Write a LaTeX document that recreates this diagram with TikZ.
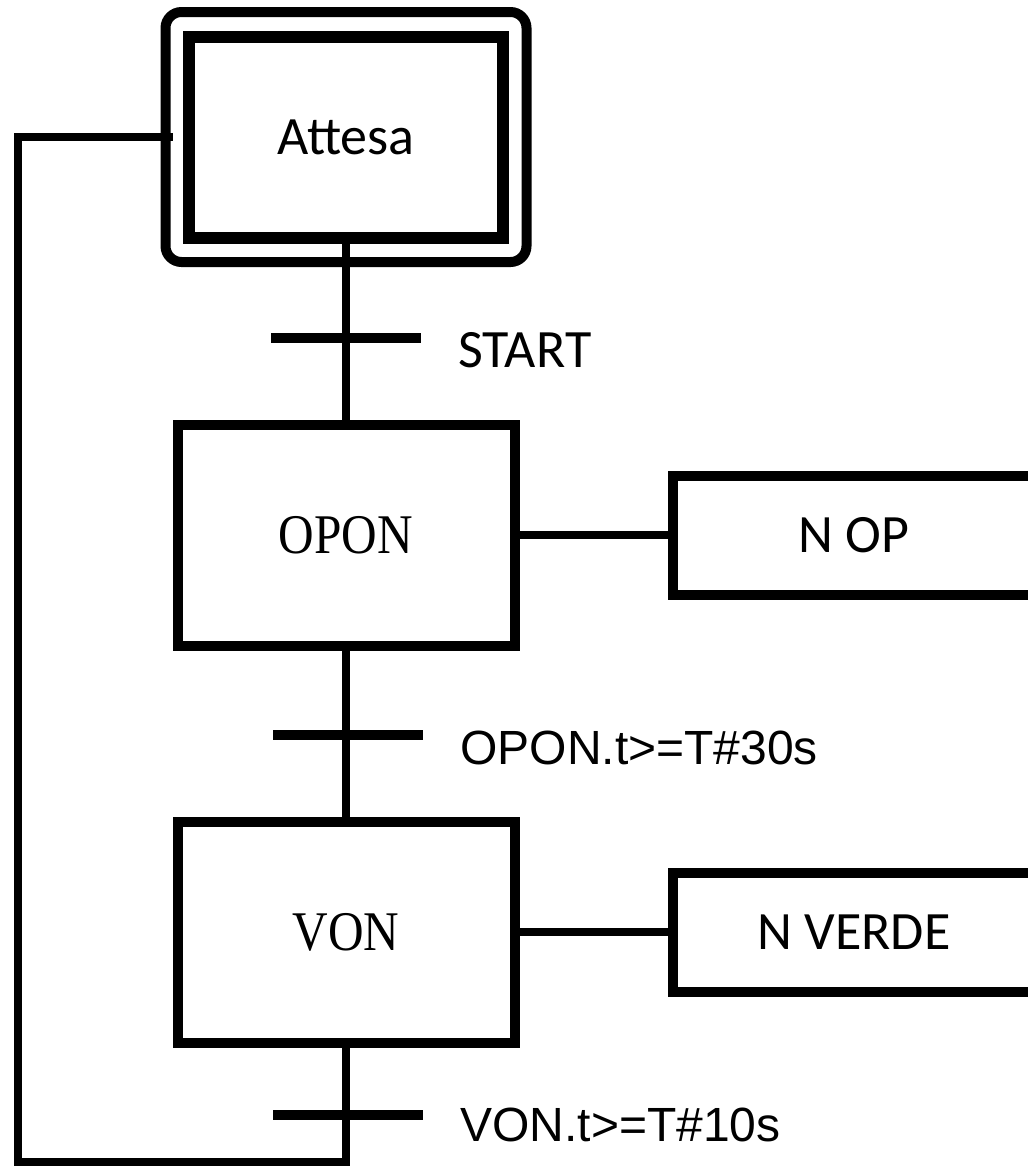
\documentclass[tikz,border=0pt]{standalone}
\usepackage{fontspec}
\newfontfamily\calfont{Carlito}
\newfontfamily\arialfont{Liberation Sans}
\newfontfamily\serfont[FakeStretch=0.88]{Liberation Serif}
\tikzset{
  initbox/.style={draw, line width=6pt, inner sep=0pt, minimum width=157pt, minimum height=100.5pt,
    font=\calfont\fontsize{27}{32}\selectfont},
  initframe/.style={draw, line width=5pt, rounded corners=8pt, minimum width=180.5pt, minimum height=125pt},
  stepbox/.style={draw, line width=5pt, inner sep=0pt, minimum width=168.5pt, minimum height=110.5pt,
    font=\serfont\fontsize{28}{32}\selectfont},
  actbox/.style={draw, line width=5pt, inner sep=0pt, minimum width=181.5pt, minimum height=59.5pt,
    font=\calfont\fontsize{27}{32}\selectfont},
  transbar/.style={fill=black, inner sep=0pt, minimum width=75pt, minimum height=5pt},
  cond/.style={anchor=west, inner sep=0pt},
  link/.style={line width=4pt}
}
\begin{document}
\begin{tikzpicture}[x=0.5pt, y=-0.5pt]
  \clip (0,0) rectangle (1028,1168);

  % Initial step
  \node[initbox] (attesa) at (346,137) {Attesa};
  \node[initframe] (frame) at (attesa) {};

  % Steps
  \node[stepbox] (opon) at (346,535) {OPON};
  \node[stepbox] (von) at (346,932) {VON};

  % Actions
  \node[actbox] (nop) at (854,535) {N OP};
  \node[actbox] (nverde) at (854,932) {N VERDE};

  % Transitions
  \node[transbar] (t1) at (346,338) {};
  \node[transbar] (t2) at (348,735) {};
  \node[transbar] (t3) at (348,1115) {};

  % Conditions
  \node[cond, font=\calfont\fontsize{27}{32}\selectfont] (c1) at (458,350) {START};
  \node[cond, font=\arialfont\fontsize{24}{28}\selectfont] (c2) at (460,748) {OPON.t>=T\#30s};
  \node[cond, font=\arialfont\fontsize{24}{28}\selectfont] (c3) at (460,1125) {VON.t>=T\#10s};

  % Links
  \draw[link] (attesa.south) -- (opon.north);
  \draw[link] (opon.south) -- (von.north);
  \draw[link] (opon.east) -- (nop.west);
  \draw[link] (von.east) -- (nverde.west);

  % Loop back to Attesa
  \coordinate (back) at (18,1162);
  \draw[link] (von.south) |- (back) |- ([xshift=6pt]frame.west);
\end{tikzpicture}
\end{document}
